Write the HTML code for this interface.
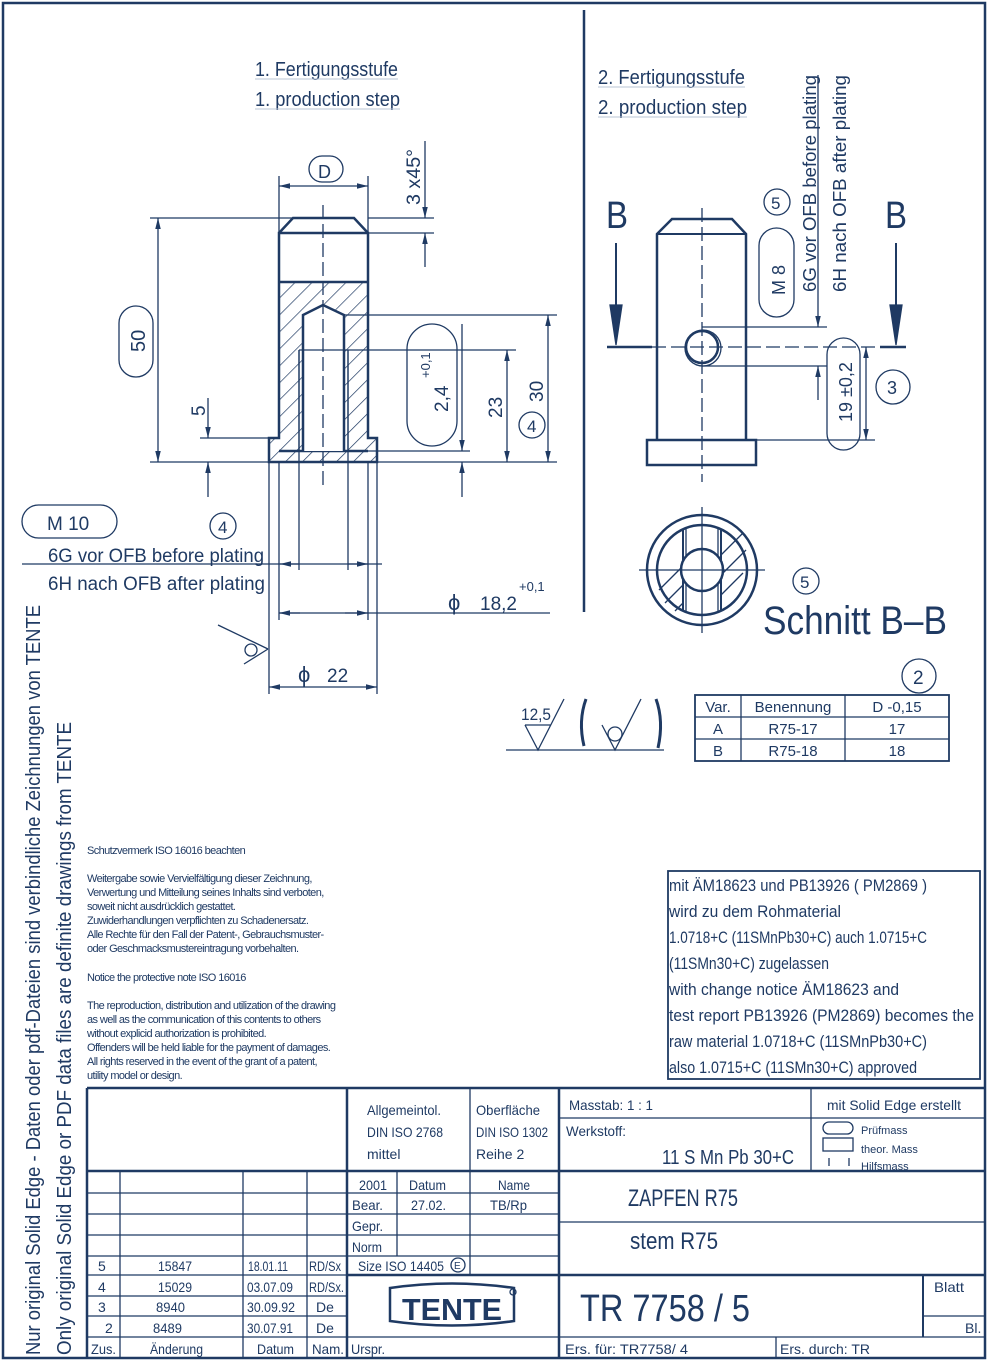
<!DOCTYPE html>
<html><head><meta charset="utf-8"><style>
html,body{margin:0;padding:0;background:#fff}
svg{display:block}
text{font-family:"Liberation Sans",sans-serif;fill:#1f3a63}
</style></head><body>
<svg width="1000" height="1362" viewBox="0 0 1000 1362" xmlns="http://www.w3.org/2000/svg">
<defs>
<marker id="a" viewBox="0 0 10 10" refX="10" refY="5" markerWidth="11" markerHeight="11" markerUnits="userSpaceOnUse" orient="auto-start-reverse"><path d="M0,2.5 L10,5 L0,7.5z" fill="#1f3a63"/></marker>
<pattern id="h" width="12" height="12" patternUnits="userSpaceOnUse" patternTransform="rotate(45)"><line x1="0" y1="0" x2="0" y2="12" stroke="#1f3a63" stroke-width="1.4"/></pattern>
</defs>
<g stroke="#1f3a63" fill="none" stroke-width="1.3">
<rect x="3" y="3" width="982" height="1355" stroke-width="2.5"/>
<line x1="584" y1="10" x2="584" y2="612" stroke-width="2.5"/>

<!-- LEFT PART -->
<path d="M279,282 H368 V438 H377 V462 H269 V438 H279 Z M303,315 L323,305 L344,315 V451 H303 Z" fill="url(#h)" fill-rule="evenodd" stroke="none"/>
<path d="M279,233 L293,218 H354 L368,233" stroke-width="2.5"/>
<path d="M279,233 V438 H269 V462 H377 V438 H368 V233 Z" stroke-width="2.5"/>
<line x1="279" y1="282" x2="368" y2="282" stroke-width="2.5"/>
<line x1="279" y1="451" x2="368" y2="451" stroke-width="2.5"/>
<path d="M303,451 V315 L323,305 L344,315 V451" stroke-width="2.5" fill="#fff"/>
<line x1="299" y1="350" x2="299" y2="451" stroke-width="1.5"/>
<line x1="348" y1="350" x2="348" y2="451" stroke-width="1.5"/>
<line x1="323" y1="205" x2="323" y2="485" stroke-dasharray="14,5"/>
<line x1="269" y1="462" x2="269" y2="694"/><line x1="377" y1="462" x2="377" y2="694"/>
<line x1="279" y1="462" x2="279" y2="620"/><line x1="368" y1="462" x2="368" y2="620"/>
<line x1="299" y1="451" x2="299" y2="570"/><line x1="348" y1="451" x2="348" y2="570"/>
<line x1="279" y1="176" x2="279" y2="232"/><line x1="368" y1="176" x2="368" y2="232"/>
<line x1="279" y1="186" x2="368" y2="186" marker-start="url(#a)" marker-end="url(#a)"/>
<rect x="309" y="156" width="34" height="26" rx="13"/>
<line x1="368" y1="218" x2="434" y2="218"/><line x1="368" y1="233" x2="434" y2="233"/>
<line x1="425" y1="141" x2="425" y2="218" marker-end="url(#a)"/>
<line x1="425" y1="267" x2="425" y2="233" marker-end="url(#a)"/>
<line x1="150" y1="218" x2="293" y2="218"/><line x1="150" y1="462" x2="270" y2="462"/>
<line x1="158" y1="218" x2="158" y2="462" marker-start="url(#a)" marker-end="url(#a)"/>
<rect x="119" y="306" width="34" height="71" rx="17"/>
<line x1="200" y1="438" x2="270" y2="438"/>
<line x1="208" y1="398" x2="208" y2="438" marker-end="url(#a)"/>
<line x1="208" y1="497" x2="208" y2="462" marker-end="url(#a)"/>
<line x1="344" y1="315" x2="557" y2="315"/>
<line x1="299" y1="350" x2="516" y2="350"/>
<line x1="368" y1="451" x2="470" y2="451"/>
<line x1="377" y1="462" x2="557" y2="462"/>
<line x1="548" y1="315" x2="548" y2="462" marker-start="url(#a)" marker-end="url(#a)"/>
<line x1="507" y1="350" x2="507" y2="462" marker-start="url(#a)" marker-end="url(#a)"/>
<line x1="462" y1="324" x2="462" y2="451" marker-end="url(#a)"/>
<line x1="462" y1="497" x2="462" y2="462" marker-end="url(#a)"/>
<rect x="407" y="324" width="50" height="122" rx="25"/>
<circle cx="532" cy="425" r="13"/>
<rect x="22" y="505" width="95" height="33" rx="16.5"/>
<circle cx="223" cy="526" r="13"/>
<line x1="22" y1="564" x2="382" y2="564"/>
<line x1="280" y1="564" x2="299" y2="564" marker-start="url(#a)"/>
<line x1="348" y1="564" x2="368" y2="564" marker-end="url(#a)"/>
<line x1="279" y1="613" x2="550" y2="613"/>
<line x1="279" y1="613" x2="300" y2="613" marker-start="url(#a)"/>
<line x1="345" y1="613" x2="368" y2="613" marker-end="url(#a)"/>
<line x1="269" y1="687" x2="377" y2="687" marker-start="url(#a)" marker-end="url(#a)"/>
<line x1="218" y1="625" x2="268" y2="649"/>
<line x1="244" y1="664" x2="268" y2="649"/>
<circle cx="251" cy="650" r="6"/>

<!-- RIGHT PART -->
<path d="M657,440 V234 L672,219 H732 L746,234 V440" stroke-width="2.5"/>
<line x1="657" y1="234" x2="746" y2="234" stroke-width="2"/>
<rect x="647" y="440" width="109" height="25" stroke-width="2.5"/>
<line x1="702" y1="208" x2="702" y2="482" stroke-dasharray="14,5"/>
<line x1="607" y1="347" x2="652" y2="347" stroke-width="2.5"/>
<line x1="652" y1="347" x2="880" y2="347" stroke-dasharray="14,5"/>
<line x1="880" y1="347" x2="906" y2="347" stroke-width="2.5"/>
<circle cx="702" cy="347" r="16" stroke-width="2.5"/>
<circle cx="703" cy="348" r="18"/>
<line x1="616" y1="243" x2="616" y2="340" stroke-width="2"/><path d="M610,305 L616,345 L622,305z" fill="#1f3a63"/>
<line x1="896" y1="243" x2="896" y2="340" stroke-width="2"/><path d="M890,305 L896,345 L902,305z" fill="#1f3a63"/>
<line x1="702" y1="327" x2="827" y2="327"/><line x1="702" y1="366" x2="827" y2="366"/>
<line x1="818" y1="75" x2="818" y2="327" marker-end="url(#a)"/>
<line x1="818" y1="400" x2="818" y2="366" marker-end="url(#a)"/>
<rect x="759" y="228" width="35" height="89" rx="17.5"/>
<circle cx="777" cy="202" r="13"/>
<line x1="746" y1="440" x2="875" y2="440"/>
<line x1="866" y1="347" x2="866" y2="440" marker-start="url(#a)" marker-end="url(#a)"/>
<rect x="827" y="338" width="33" height="112" rx="16.5"/>
<circle cx="893" cy="387" r="17"/>

<!-- SECTION -->
<circle cx="702" cy="570" r="55" stroke-width="2.5"/>
<circle cx="702" cy="570" r="45" stroke-width="2.5"/>
<g stroke-width="1.3">
<line x1="659" y1="590" x2="683" y2="566"/><line x1="665" y1="603" x2="683" y2="585"/><line x1="675" y1="611" x2="683" y2="603"/>
<line x1="721" y1="555" x2="743" y2="533"/><line x1="721" y1="575" x2="746" y2="550"/><line x1="721" y1="595" x2="743" y2="573"/>
</g>
<line x1="683" y1="529" x2="683" y2="611" stroke-width="2"/><line x1="686" y1="527" x2="686" y2="612"/>
<line x1="721" y1="529" x2="721" y2="611" stroke-width="2"/><line x1="718" y1="527" x2="718" y2="612"/>
<circle cx="702" cy="570" r="21" stroke-width="2.5" fill="#fff"/>
<line x1="639" y1="570" x2="765" y2="570"/><line x1="702" y1="507" x2="702" y2="633"/>
<circle cx="806" cy="581" r="13"/>
<rect x="695" y="695" width="254" height="66" stroke-width="1.8"/>
<line x1="695" y1="717" x2="949" y2="717"/><line x1="695" y1="739" x2="949" y2="739"/>
<line x1="741" y1="695" x2="741" y2="761"/><line x1="845" y1="695" x2="845" y2="761"/>
<circle cx="919" cy="676" r="17"/>
<line x1="506" y1="750" x2="664" y2="750"/>
<path d="M525,725 L538,750 L564,699 M525,725 H551"/>
<path d="M602,725 L615,750 L641,699"/>
<circle cx="615" cy="734" r="7"/>
<path d="M586,699 Q578,721 584,746" stroke-width="3"/>
<path d="M656,699 Q664,721 658,748" stroke-width="3"/>
<rect x="668" y="871" width="312" height="208" stroke-width="1.8"/>

<!-- TITLE BLOCK -->
<line x1="87" y1="1088" x2="985" y2="1088" stroke-width="2.5"/>
<line x1="87" y1="1088" x2="87" y2="1358" stroke-width="2.5"/>
<line x1="87" y1="1171" x2="985" y2="1171" stroke-width="2.5"/>
<line x1="347" y1="1088" x2="347" y2="1358" stroke-width="2.5"/>
<line x1="559" y1="1088" x2="559" y2="1358" stroke-width="2.5"/>
<line x1="470" y1="1088" x2="470" y2="1171"/>
<line x1="811" y1="1088" x2="811" y2="1171"/>
<line x1="559" y1="1118" x2="985" y2="1118"/>
<line x1="120" y1="1171" x2="120" y2="1358"/>
<line x1="243" y1="1171" x2="243" y2="1358"/>
<line x1="307" y1="1171" x2="307" y2="1358"/>
<line x1="87" y1="1193" x2="559" y2="1193"/>
<line x1="87" y1="1214" x2="559" y2="1214"/>
<line x1="87" y1="1235" x2="559" y2="1235"/>
<line x1="87" y1="1256" x2="559" y2="1256"/>
<line x1="87" y1="1275" x2="347" y2="1275"/>
<line x1="347" y1="1275" x2="985" y2="1275" stroke-width="2.5"/>
<line x1="87" y1="1296" x2="347" y2="1296"/>
<line x1="87" y1="1316" x2="347" y2="1316"/>
<line x1="87" y1="1337" x2="985" y2="1337"/>
<line x1="397" y1="1171" x2="397" y2="1256"/>
<line x1="470" y1="1171" x2="470" y2="1275"/>
<line x1="559" y1="1222" x2="985" y2="1222"/>
<line x1="923" y1="1275" x2="923" y2="1337" stroke-width="2"/>
<line x1="923" y1="1316" x2="985" y2="1316"/>
<line x1="776" y1="1337" x2="776" y2="1358"/>
<rect x="823" y="1122" width="30" height="12" rx="6"/>
<rect x="823" y="1138" width="30" height="13"/>
<path d="M829,1158 v8 M849,1158 v8"/>
<circle cx="458" cy="1265" r="7"/>
<path d="M390,1288 Q452,1279 514,1288 V1321 Q452,1330 390,1321 Z" stroke-width="2.5"/>
<circle cx="513" cy="1292" r="3"/>
</g>

<!-- TEXTS -->
<g font-size="20">
<text x="255" y="76" textLength="143" lengthAdjust="spacingAndGlyphs">1. Fertigungsstufe</text>
<text x="255" y="106" textLength="145" lengthAdjust="spacingAndGlyphs">1. production step</text>
<text x="598" y="84" textLength="147" lengthAdjust="spacingAndGlyphs">2. Fertigungsstufe</text>
<text x="598" y="114" textLength="149" lengthAdjust="spacingAndGlyphs">2. production step</text>
</g>
<g stroke="#b8c4d6" stroke-width="1"><line x1="255" y1="79" x2="398" y2="79"/><line x1="255" y1="109" x2="400" y2="109"/><line x1="598" y1="87" x2="745" y2="87"/><line x1="598" y1="117" x2="747" y2="117"/></g>
<text x="318" y="178" font-size="18">D</text>
<text font-size="19" transform="translate(420,205) rotate(-90)" textLength="56" lengthAdjust="spacingAndGlyphs">3 x45°</text>
<text font-size="20" transform="translate(145,352) rotate(-90)">50</text>
<text font-size="19" transform="translate(205,416) rotate(-90)">5</text>
<text font-size="19" transform="translate(448,412) rotate(-90)">2,4</text>
<text font-size="13" transform="translate(430,378) rotate(-90)">+0,1</text>
<text font-size="19" transform="translate(502,418) rotate(-90)">23</text>
<text font-size="19" transform="translate(543,402) rotate(-90)">30</text>
<text x="527" y="432" font-size="17">4</text>
<text x="218" y="533" font-size="17">4</text>
<text x="47" y="530" font-size="19">M 10</text>
<text x="48" y="562" font-size="19" textLength="216" lengthAdjust="spacingAndGlyphs">6G vor OFB before plating</text>
<text x="48" y="590" font-size="19" textLength="217" lengthAdjust="spacingAndGlyphs">6H nach OFB after plating</text>
<text x="448" y="610" font-size="22">ϕ</text>
<text x="480" y="610" font-size="19">18,2</text>
<text x="519" y="591" font-size="13">+0,1</text>
<text x="298" y="682" font-size="22">ϕ</text>
<text x="327" y="682" font-size="19">22</text>
<text x="606" y="228" font-size="38" textLength="22" lengthAdjust="spacingAndGlyphs">B</text>
<text x="885" y="228" font-size="38" textLength="22" lengthAdjust="spacingAndGlyphs">B</text>
<text x="771" y="209" font-size="17">5</text>
<text font-size="18" transform="translate(785,295) rotate(-90)">M 8</text>
<text font-size="18" transform="translate(816,292) rotate(-90)" textLength="217" lengthAdjust="spacingAndGlyphs">6G vor OFB before plating</text>
<text font-size="18" transform="translate(846,292) rotate(-90)" textLength="217" lengthAdjust="spacingAndGlyphs">6H nach OFB after plating</text>
<text font-size="18" transform="translate(852,422) rotate(-90)">19 ±0,2</text>
<text x="887" y="394" font-size="18">3</text>
<text x="800" y="588" font-size="17">5</text>
<text x="763" y="634" font-size="40" textLength="184" lengthAdjust="spacingAndGlyphs">Schnitt B–B</text>
<text x="913" y="684" font-size="19">2</text>
<g font-size="15" text-anchor="middle">
<text x="718" y="712">Var.</text><text x="793" y="712">Benennung</text><text x="897" y="712">D -0,15</text>
<text x="718" y="734">A</text><text x="793" y="734">R75-17</text><text x="897" y="734">17</text>
<text x="718" y="756">B</text><text x="793" y="756">R75-18</text><text x="897" y="756">18</text>
</g>
<text x="521" y="720" font-size="17" textLength="30" lengthAdjust="spacingAndGlyphs">12,5</text>
<g font-size="11" letter-spacing="-0.6">
<text x="87" y="854">Schutzvermerk ISO 16016 beachten</text>
<text x="87" y="882">Weitergabe sowie Vervielfältigung dieser Zeichnung,</text>
<text x="87" y="896">Verwertung und Mitteilung seines Inhalts sind verboten,</text>
<text x="87" y="910">soweit nicht ausdrücklich gestattet.</text>
<text x="87" y="924">Zuwiderhandlungen verpflichten zu Schadenersatz.</text>
<text x="87" y="938">Alle Rechte für den Fall der Patent-, Gebrauchsmuster-</text>
<text x="87" y="952">oder Geschmacksmustereintragung vorbehalten.</text>
<text x="87" y="981">Notice the protective note ISO 16016</text>
<text x="87" y="1009">The reproduction, distribution and utilization of the drawing</text>
<text x="87" y="1023">as well as the communication of this contents to others</text>
<text x="87" y="1037">without explicid authorization is prohibited.</text>
<text x="87" y="1051">Offenders will be held liable for the payment of damages.</text>
<text x="87" y="1065">All rights reserved in the event of the grant of a patent,</text>
<text x="87" y="1079">utility model or design.</text>
</g>
<g font-size="17">
<text x="669" y="891" textLength="258" lengthAdjust="spacingAndGlyphs">mit ÄM18623 und PB13926 ( PM2869 )</text>
<text x="669" y="917" textLength="172" lengthAdjust="spacingAndGlyphs">wird zu dem Rohmaterial</text>
<text x="669" y="943" textLength="258" lengthAdjust="spacingAndGlyphs">1.0718+C (11SMnPb30+C) auch 1.0715+C</text>
<text x="669" y="969" textLength="160" lengthAdjust="spacingAndGlyphs">(11SMn30+C) zugelassen</text>
<text x="669" y="995" textLength="230" lengthAdjust="spacingAndGlyphs">with change notice ÄM18623 and</text>
<text x="669" y="1021" textLength="305" lengthAdjust="spacingAndGlyphs">test report PB13926 (PM2869) becomes the</text>
<text x="669" y="1047" textLength="258" lengthAdjust="spacingAndGlyphs">raw material 1.0718+C (11SMnPb30+C)</text>
<text x="669" y="1073" textLength="248" lengthAdjust="spacingAndGlyphs">also 1.0715+C (11SMn30+C) approved</text>
</g>
<text font-size="20" transform="translate(40,1355) rotate(-90)" textLength="750" lengthAdjust="spacingAndGlyphs">Nur original Solid Edge - Daten oder pdf-Dateien sind verbindliche Zeichnungen von TENTE</text>
<text font-size="20" transform="translate(71,1355) rotate(-90)" textLength="633" lengthAdjust="spacingAndGlyphs">Only original Solid Edge or PDF data files are definite drawings from TENTE</text>
<g font-size="14">
<text x="367" y="1115" textLength="74" lengthAdjust="spacingAndGlyphs">Allgemeintol.</text>
<text x="367" y="1137" textLength="76" lengthAdjust="spacingAndGlyphs">DIN ISO 2768</text>
<text x="367" y="1159">mittel</text>
<text x="476" y="1115" textLength="64" lengthAdjust="spacingAndGlyphs">Oberfläche</text>
<text x="476" y="1137" textLength="72" lengthAdjust="spacingAndGlyphs">DIN ISO 1302</text>
<text x="476" y="1159">Reihe 2</text>
<text x="569" y="1110" textLength="84" lengthAdjust="spacingAndGlyphs">Masstab:  1 : 1</text>
<text x="827" y="1110" textLength="134" lengthAdjust="spacingAndGlyphs">mit Solid Edge erstellt</text>
<text x="566" y="1136" textLength="60" lengthAdjust="spacingAndGlyphs">Werkstoff:</text>
<text x="861" y="1134" font-size="11">Prüfmass</text>
<text x="861" y="1153" font-size="11">theor. Mass</text>
<text x="861" y="1170" font-size="11">Hilfsmass</text>
<text x="359" y="1190" textLength="28" lengthAdjust="spacingAndGlyphs">2001</text><text x="409" y="1190" textLength="37" lengthAdjust="spacingAndGlyphs">Datum</text><text x="498" y="1190" textLength="32" lengthAdjust="spacingAndGlyphs">Name</text>
<text x="352" y="1210" textLength="31" lengthAdjust="spacingAndGlyphs">Bear.</text><text x="411" y="1210" textLength="35" lengthAdjust="spacingAndGlyphs">27.02.</text><text x="490" y="1210" textLength="37" lengthAdjust="spacingAndGlyphs">TB/Rp</text>
<text x="352" y="1231" textLength="31" lengthAdjust="spacingAndGlyphs">Gepr.</text>
<text x="352" y="1252" textLength="30" lengthAdjust="spacingAndGlyphs">Norm</text>
<text x="358" y="1271" textLength="86" lengthAdjust="spacingAndGlyphs">Size ISO 14405</text><text x="454" y="1269" font-size="10">E</text>
<text x="98" y="1271">5</text><text x="158" y="1271" textLength="34" lengthAdjust="spacingAndGlyphs">15847</text><text x="248" y="1271" textLength="40" lengthAdjust="spacingAndGlyphs">18.01.11</text><text x="309" y="1271" textLength="32" lengthAdjust="spacingAndGlyphs">RD/Sx</text>
<text x="98" y="1292">4</text><text x="158" y="1292" textLength="34" lengthAdjust="spacingAndGlyphs">15029</text><text x="247" y="1292" textLength="46" lengthAdjust="spacingAndGlyphs">03.07.09</text><text x="309" y="1292" textLength="35" lengthAdjust="spacingAndGlyphs">RD/Sx.</text>
<text x="98" y="1312">3</text><text x="156" y="1312" textLength="29" lengthAdjust="spacingAndGlyphs">8940</text><text x="247" y="1312" textLength="48" lengthAdjust="spacingAndGlyphs">30.09.92</text><text x="316" y="1312">De</text>
<text x="105" y="1333">2</text><text x="153" y="1333" textLength="29" lengthAdjust="spacingAndGlyphs">8489</text><text x="247" y="1333" textLength="46" lengthAdjust="spacingAndGlyphs">30.07.91</text><text x="316" y="1333">De</text>
<text x="91" y="1354" textLength="25" lengthAdjust="spacingAndGlyphs">Zus.</text><text x="150" y="1354" textLength="53" lengthAdjust="spacingAndGlyphs">Änderung</text><text x="257" y="1354" textLength="37" lengthAdjust="spacingAndGlyphs">Datum</text><text x="312" y="1354" textLength="32" lengthAdjust="spacingAndGlyphs">Nam.</text>
<text x="351" y="1354" textLength="34" lengthAdjust="spacingAndGlyphs">Urspr.</text>
<text x="565" y="1354" textLength="123" lengthAdjust="spacingAndGlyphs">Ers. für:    TR7758/ 4</text>
<text x="780" y="1354" textLength="90" lengthAdjust="spacingAndGlyphs">Ers. durch:   TR</text>
<text x="934" y="1292" textLength="30" lengthAdjust="spacingAndGlyphs">Blatt</text>
<text x="965" y="1333">Bl.</text>
</g>
<text x="662" y="1164" font-size="20" textLength="132" lengthAdjust="spacingAndGlyphs">11 S Mn Pb 30+C</text>
<text x="628" y="1206" font-size="24" textLength="110" lengthAdjust="spacingAndGlyphs">ZAPFEN R75</text>
<text x="630" y="1249" font-size="24" textLength="88" lengthAdjust="spacingAndGlyphs">stem R75</text>
<text x="580" y="1321" font-size="38" textLength="170" lengthAdjust="spacingAndGlyphs">TR 7758 / 5</text>
<text x="402" y="1320" font-size="31" font-weight="bold" textLength="100" lengthAdjust="spacingAndGlyphs">TENTE</text>
</svg>
</body></html>
